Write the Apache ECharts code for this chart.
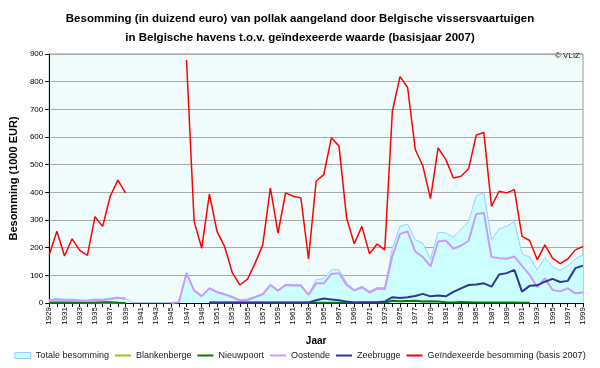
<!DOCTYPE html>
<html><head><meta charset="utf-8">
<script src="https://cdn.jsdelivr.net/npm/echarts@6/dist/echarts.min.js"></script>
<style>html,body{margin:0;padding:0;background:#fff}#c{width:600px;height:368px}</style>
</head><body><div id="c"></div>
<script>
var years = [];
for (var y = 1929; y <= 1999; y++) years.push(String(y));
var yTicks = [0,100,200,300,400,500,600,700,800,900];

var totaal = [12,17,14,14,11,10,14,14,18,21,17, 0,0,0,0,0,0,3, 110,47,27,56,42,34,24,12,14,24,34,68,47,68,66,66,32,84,88,120,120,72,48,61,42,56,56,198,277,285,229,216,158,256,253,238,265,295,388,398,229,268,277,294,178,166,120,164,132,117,134,160,174];
var blankenberge = [3,3,3,3,2,1,1,1,1,1,0, null,null,null,null,null,null,null,null,null,null,null,null,null,null,null,null,null,null,null,null,null,null,null,null,null,null,null,null,null,null,null,null,null,null,null,null,null,null,null,null,null,null,null,null,null,null,null,null,null,null,null,null,null,null,null,null,null,null,null,null];
var nieuwpoort = [1,1,1,1,1,1,1,3,3,1,0, null,null,null,null,null,null,null,null,null,null, 1,1,1,1,1,1,1,1,1,1,1,1,1,1,1,1,1,1,1,1,1,1,1,1, 8,6,7,8,5,6,5,3,2,4,3,2,2,2,2,2,2,1,1, null,null,null,null,null,null,null];
var oostende = [8,13,10,10,8,8,12,10,14,19,15, null,null,null,null,null, 0,3,108,45,25,53,39,31,21,9,11,21,31,65,44,65,63,63,29,71,71,105,108,65,45,57,38,52,50,170,250,259,186,166,132,222,226,196,207,225,322,325,166,162,160,168,134,102,57,90,47,42,53,35,38];
var zeebrugge = [null,null,null,null,null,null,null,null,null,null,null, null,null,null,null,null,null,null,null,null,null, 2,2,2,2,2,2,2,2,2,2,2,2,2,2,10,16,13,10,5,2,3,3,3,5,21,18,21,25,33,24,27,24,40,53,65,67,71,59,103,108,120,41,62,64,77,87,76,80,126,135];
var geindex = [174,259,170,232,190,172,312,277,386,444,398, null,null,null,null,null,null,null, 878,295,198,394,259,204,110,65,86,144,210,416,253,398,386,380,159,440,464,597,567,307,214,277,178,213,192,694,818,779,555,495,377,561,519,452,458,485,607,616,349,404,398,410,241,226,156,210,162,142,159,192,204];

var chart = echarts.init(document.getElementById('c'), null, {renderer:'canvas'});
var ff = 'Liberation Sans, Arial, sans-serif';
var lineIcon = 'path://M0,0 H16 V2 H0 Z';
chart.setOption({
  animation:false,
  backgroundColor:'#ffffff',
  title:{
    text:'Besomming (in duizend euro) van pollak aangeland door Belgische vissersvaartuigen\nin Belgische havens t.o.v. geïndexeerde waarde (basisjaar 2007)',
    left:'center', top:4,
    textStyle:{fontFamily:ff, fontSize:11.5, fontWeight:'bold', color:'#000', lineHeight:19}
  },
  graphic:[{type:'text', right:20, top:52, style:{text:'© VLIZ', fontFamily:ff, fontSize:8, fill:'#000'}}],
  legend:{
    bottom:3, left:'center', itemGap:6, itemWidth:16, itemHeight:6,
    textStyle:{fontFamily:ff, fontSize:9, color:'#222'},
    data:[
      {name:'Totale besomming', icon:'rect', itemStyle:{color:'#ccffff', borderColor:'#99ccff', borderWidth:1}},
      {name:'Blankenberge', icon:lineIcon},{name:'Nieuwpoort', icon:lineIcon},{name:'Oostende', icon:lineIcon},{name:'Zeebrugge', icon:lineIcon},
      {name:'Geïndexeerde besomming (basis 2007)', icon:lineIcon}
    ]
  },
  grid:{left:44, right:17, top:54, bottom:65, show:true, backgroundColor:'#f0fcfc', borderColor:'#999', borderWidth:1},
  xAxis:{
    type:'category', data:years, boundaryGap:false,
    name:'Jaar', nameLocation:'middle', nameGap:33,
    nameTextStyle:{fontFamily:ff, fontSize:10, fontWeight:'bold', color:'#000'},
    axisLine:{lineStyle:{color:'#000', width:1}},
    axisTick:{interval:0, length:4, lineStyle:{color:'#000'}},
    axisLabel:{interval:1, rotate:90, fontFamily:ff, fontSize:8, color:'#000', margin:4},
    splitLine:{show:false}
  },
  yAxis:{
    type:'value', min:yTicks[0], max:yTicks[yTicks.length-1], interval:100,
    name:'Besomming (1000 EUR)', nameLocation:'middle', nameGap:28,
    nameTextStyle:{fontFamily:ff, fontSize:11, fontWeight:'bold', color:'#000'},
    axisLine:{show:true, lineStyle:{color:'#000'}},
    axisTick:{show:true, length:4, lineStyle:{color:'#000'}},
    axisLabel:{fontFamily:ff, fontSize:8, color:'#000', margin:6},
    splitLine:{lineStyle:{color:'#a8a8a8', width:1}}
  },
  series:[
    {name:'Totale besomming', type:'line', data:totaal, symbol:'none', color:'#99ccff',
      lineStyle:{color:'#99ccff', width:1}, areaStyle:{color:'#ccffff', opacity:1}},
    {name:'Blankenberge', type:'line', data:blankenberge, symbol:'none', color:'#99cc00', lineStyle:{width:2}},
    {name:'Nieuwpoort', type:'line', data:nieuwpoort, symbol:'none', color:'#008000', lineStyle:{width:2}},
    {name:'Oostende', type:'line', data:oostende, symbol:'none', color:'#cc99ff', lineStyle:{width:2}},
    {name:'Zeebrugge', type:'line', data:zeebrugge, symbol:'none', color:'#333399', lineStyle:{width:2}},
    {name:'Geïndexeerde besomming (basis 2007)', type:'line', data:geindex, symbol:'none', color:'#ff0000', lineStyle:{width:1.5}}
  ]
});
</script></body></html>
